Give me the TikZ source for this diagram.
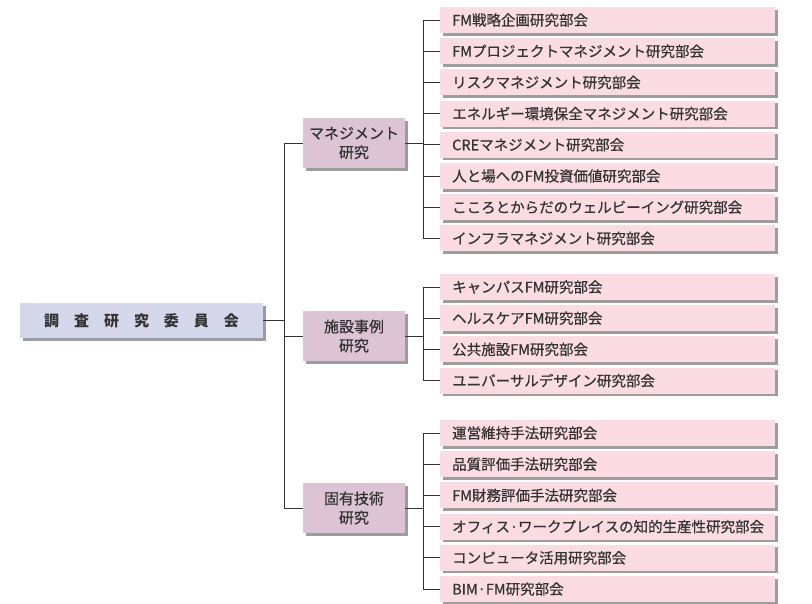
\documentclass[tikz,border=0pt]{standalone}
\usepackage{fontspec}
\setmainfont{Noto Sans CJK JP}
\newfontfamily\medfont{Noto Sans CJK JP}[FakeBold=0.6]
\usetikzlibrary{shadows}
\definecolor{leafpink}{HTML}{FADCE2}
\definecolor{midmauve}{HTML}{DCC4D4}
\definecolor{mainlav}{HTML}{D5D7EB}
\definecolor{txt}{HTML}{333333}
\definecolor{ln}{HTML}{333333}
\tikzset{
  shad/.style={drop shadow={shadow xshift=2.5pt,shadow yshift=-2.5pt,fill=black!70,opacity=0.55}},
  leaf/.style={shad,fill=leafpink,draw=none,anchor=west,text=txt,
    minimum height=26pt,inner xsep=12pt,inner ysep=0pt,text width=311pt,align=left,
    font=\medfont\fontsize{14.5}{16}\selectfont},
  midbox/.style={shad,fill=midmauve,draw=none,text=txt,minimum width=102pt,minimum height=50pt,
    inner sep=0pt,align=center,font=\medfont\fontsize{15}{19}\selectfont},
  mainbox/.style={shad,fill=mainlav,draw=none,text=txt,minimum width=243pt,minimum height=35pt,
    inner sep=0pt,font=\fontsize{15}{18}\selectfont\bfseries},
  conn/.style={draw=ln,line width=0.9pt},
}
\begin{document}
\begin{tikzpicture}[x=1pt,y=-1pt]
\useasboundingbox (0,0) rectangle (812,603);
% main
\node[mainbox] (main) at (141.5,320.5) {調\hspace{15pt}査\hspace{15pt}研\hspace{15pt}究\hspace{15pt}委\hspace{15pt}員\hspace{15pt}会};
% mid boxes
\node[midbox] (m1) at (354,143) {マネジメント\\研究};
\node[midbox] (m2) at (354,336) {施設事例\\研究};
\node[midbox] (m3) at (354,508) {固有技術\\研究};
% leaves group 1
\node[leaf] (a1) at (440,20.0) {FM戦略企画研究部会};
\node[leaf] (a2) at (440,51.2) {FMプロジェクトマネジメント研究部会};
\node[leaf] (a3) at (440,82.4) {リスクマネジメント研究部会};
\node[leaf] (a4) at (440,113.6) {エネルギー環境保全マネジメント研究部会};
\node[leaf] (a5) at (440,144.8) {CREマネジメント研究部会};
\node[leaf] (a6) at (440,176.0) {人と場へのFM投資価値研究部会};
\node[leaf] (a7) at (440,207.2) {こころとからだのウェルビーイング研究部会};
\node[leaf] (a8) at (440,238.4) {インフラマネジメント研究部会};
% group 2
\node[leaf] (b1) at (440,287.0) {キャンパスFM研究部会};
\node[leaf] (b2) at (440,318.2) {ヘルスケアFM研究部会};
\node[leaf] (b3) at (440,349.4) {公共施設FM研究部会};
\node[leaf] (b4) at (440,380.6) {ユニバーサルデザイン研究部会};
% group 3
\node[leaf] (c1) at (440,433.0) {運営維持手法研究部会};
\node[leaf] (c2) at (440,464.2) {品質評価手法研究部会};
\node[leaf] (c3) at (440,495.4) {FM財務評価手法研究部会};
\node[leaf] (c4) at (440,526.6) {オフィス·ワークプレイスの知的生産性研究部会};
\node[leaf] (c5) at (440,557.8) {コンピュータ活用研究部会};
\node[leaf] (c6) at (440,589.0) {BIM·FM研究部会};
% trunk coordinates
\coordinate (tk) at (284,0);
\coordinate (rk) at (423,0);
% left connectors
\draw[conn] (main.east) -- (main.east -| tk);
\draw[conn] (tk |- m1.west) -- (tk |- m3.west);
\foreach \m in {m1,m2,m3} {\draw[conn] (tk |- \m.west) -- (\m.west);}
% right connectors
\draw[conn] (m1.east) -- (m1.east -| rk);
\draw[conn] (m2.east) -- (m2.east -| rk);
\draw[conn] (m3.east) -- (m3.east -| rk);
\draw[conn] (rk |- a1.west) -- (rk |- a8.west);
\draw[conn] (rk |- b1.west) -- (rk |- b4.west);
\draw[conn] (rk |- c1.west) -- (rk |- c6.west);
\foreach \l in {a1,a2,a3,a4,a5,a6,a7,a8,b1,b2,b3,b4,c1,c2,c3,c4,c5,c6} {\draw[conn] (rk |- \l.west) -- (\l.west);}
\end{tikzpicture}
\end{document}
